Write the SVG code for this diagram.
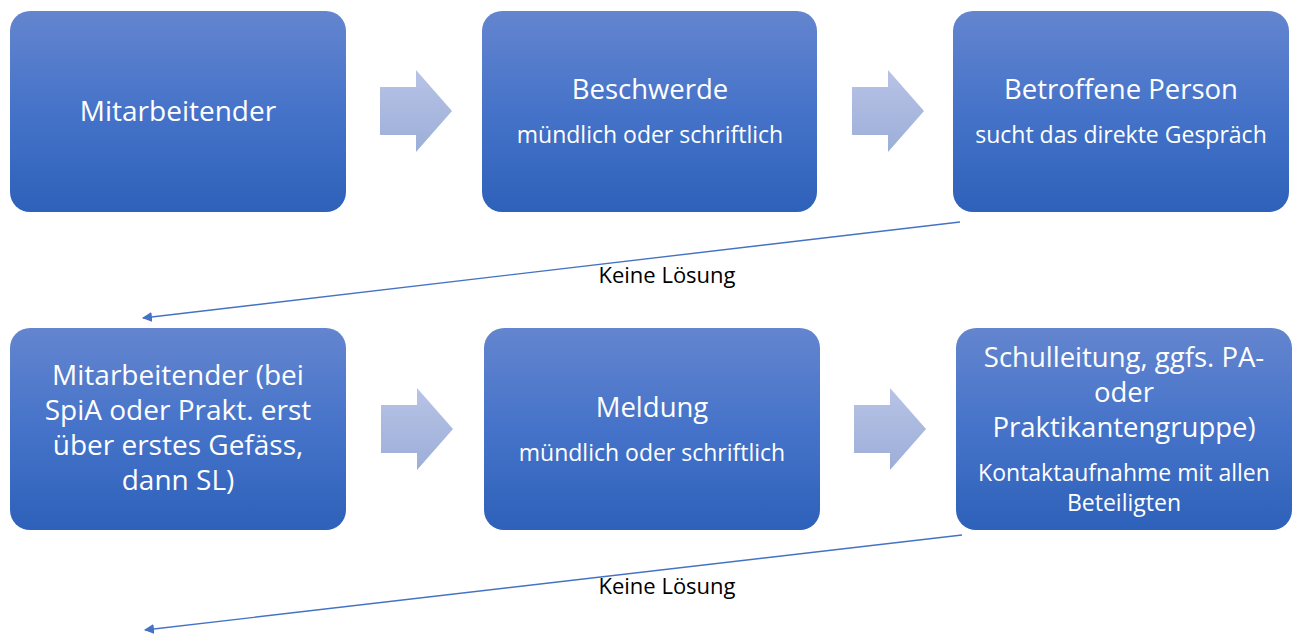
<svg xmlns="http://www.w3.org/2000/svg" width="1303" height="635" viewBox="0 0 1303 635">
<defs>
<linearGradient id="boxg" x1="0" y1="0" x2="0" y2="1">
<stop offset="0" stop-color="#6485cf"/>
<stop offset="0.5" stop-color="#4573c9"/>
<stop offset="1" stop-color="#2e61ba"/>
</linearGradient>
<linearGradient id="arrg" x1="0" y1="0" x2="0" y2="1">
<stop offset="0" stop-color="#b8c3e6"/>
<stop offset="1" stop-color="#9caed8"/>
</linearGradient>
<marker id="ah" viewBox="0 0 10 10" refX="9" refY="5" markerWidth="10" markerHeight="10" markerUnits="userSpaceOnUse" orient="auto">
<path d="M0,0 L10,5 L0,10 Z" fill="#4472c4"/>
</marker>
<path id="arr" d="M0,-24 L36,-24 L36,-41 L72,0 L36,41 L36,24 L0,24 Z"/>
</defs>
<style>
.box{fill:url(#boxg);}
.t{font-family:"Open Sans","Noto Sans",sans-serif;fill:#ffffff;text-anchor:middle;font-size:27.5px;}
.s{font-family:"Open Sans","Noto Sans",sans-serif;fill:#ffffff;text-anchor:middle;font-size:23px;}
.lbl{font-family:"Open Sans","Noto Sans",sans-serif;fill:#000000;text-anchor:middle;font-size:22px;}
.conn{stroke:#4472c4;stroke-width:1.4;fill:none;marker-end:url(#ah);}
.ar{fill:url(#arrg);}
</style>
<g id="node1">
<rect class="box" x="10" y="11" width="336" height="201" rx="20"/>
<text class="t" x="178" y="121" style="font-size:28px">Mitarbeitender</text>
</g>
<g id="node2">
<rect class="box" x="482" y="11" width="335" height="201" rx="20"/>
<text class="t" x="650" y="99">Beschwerde</text>
<text class="s" x="650" y="143">mündlich oder schriftlich</text>
</g>
<g id="node3">
<rect class="box" x="953" y="11" width="336" height="201" rx="20"/>
<text class="t" x="1121" y="99">Betroffene Person</text>
<text class="s" x="1121" y="143">sucht das direkte Gespräch</text>
</g>
<g id="node4">
<rect class="box" x="10" y="328" width="336" height="202" rx="20"/>
<text class="t" x="178" y="385" style="font-size:28px">Mitarbeitender (bei</text>
<text class="t" x="178" y="420" style="font-size:28px">SpiA oder Prakt. erst</text>
<text class="t" x="178" y="455" style="font-size:28px">über erstes Gefäss,</text>
<text class="t" x="178" y="490" style="font-size:28px">dann SL)</text>
</g>
<g id="node5">
<rect class="box" x="484" y="328" width="336" height="202" rx="20"/>
<text class="t" x="652" y="417">Meldung</text>
<text class="s" x="652" y="461">mündlich oder schriftlich</text>
</g>
<g id="node6">
<rect class="box" x="956" y="328" width="336" height="202" rx="20"/>
<text class="t" x="1124" y="367">Schulleitung, ggfs. PA-</text>
<text class="t" x="1124" y="402">oder</text>
<text class="t" x="1124" y="437">Praktikantengruppe)</text>
<text class="s" x="1124" y="481">Kontaktaufnahme mit allen</text>
<text class="s" x="1124" y="511">Beteiligten</text>
</g>
<g id="flow-arrows">
<use href="#arr" class="ar" x="380" y="111"/>
<use href="#arr" class="ar" x="852" y="111"/>
<use href="#arr" class="ar" x="381" y="429"/>
<use href="#arr" class="ar" x="854" y="429"/>
</g>
<g id="connectors">
<line class="conn" x1="960" y1="222" x2="143" y2="318"/>
<line class="conn" x1="962" y1="535" x2="145" y2="630"/>
<text class="lbl" x="667" y="283">Keine Lösung</text>
<text class="lbl" x="667" y="594">Keine Lösung</text>
</g>
</svg>
